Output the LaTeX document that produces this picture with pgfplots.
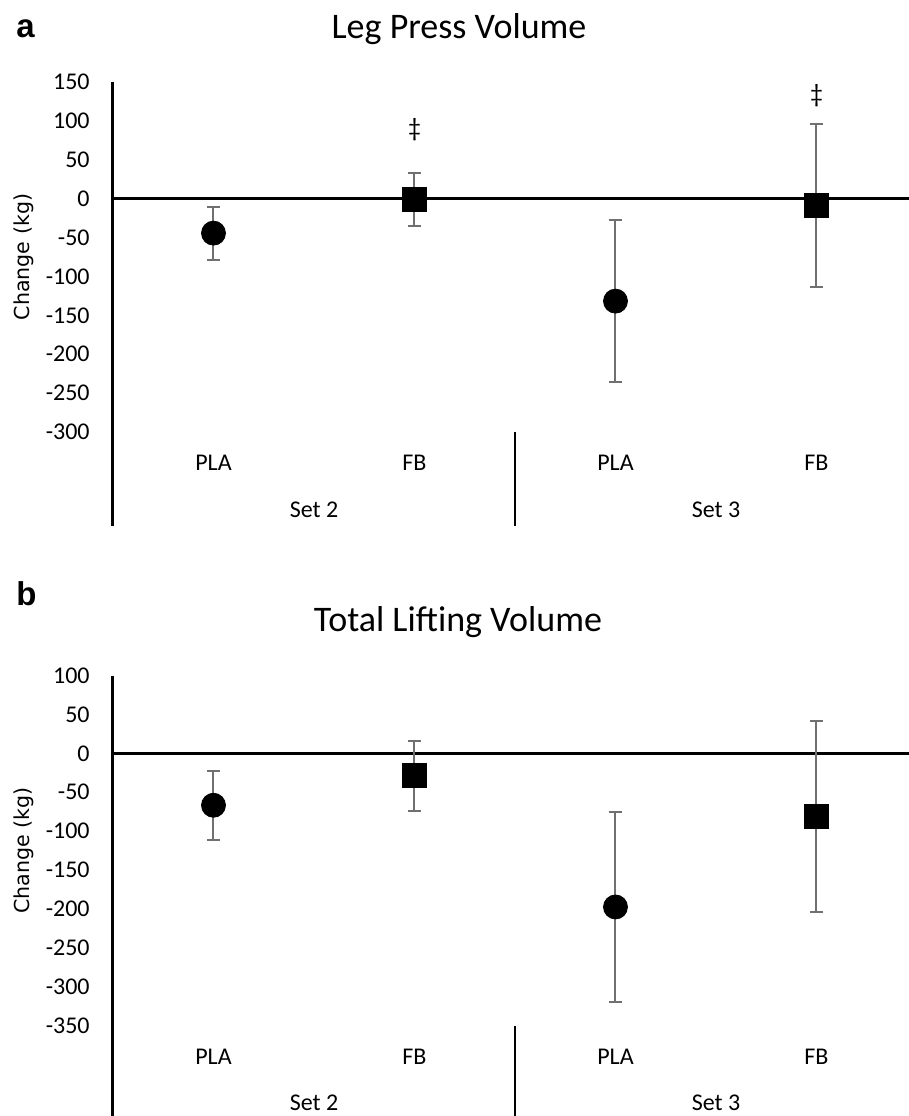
\documentclass[border=0pt]{standalone}
\usepackage{fontspec}
\setmainfont{Carlito}
\newfontfamily\dejavu{DejaVu Sans}
\newfontfamily\arialf{Liberation Sans}
\usepackage{pgfplots}
\pgfplotsset{compat=1.18}
\definecolor{ebar}{RGB}{112,112,112}
\pgfplotsset{
  panel/.style={
    width=402pt, height=175pt, scale only axis,
    xmin=0.5, xmax=4.5,
    axis line style={draw=none},
    major tick length=0pt,
    xtick={1,2,3,4}, xticklabels={PLA,FB,PLA,FB},
    ytick distance=50,
    clip=false,
    xticklabel style={anchor=base, yshift=-19.35pt, font=\fontsize{12}{14}\selectfont},
    yticklabel style={anchor=east, inner sep=0pt, xshift=-11.5pt, font=\fontsize{12}{14}\selectfont},
    /pgf/number format/assume math mode=true,
    ylabel={\dejavu\fontsize{10.3}{12}\selectfont Change (kg)},
    ylabel style={at={(axis description cs:-0.1107,0.5)}, anchor=center, rotate=0},
  },
  circ/.style={only marks, black, mark=*, mark size=6pt, mark options={fill=black, draw=black},
    error bars/.cd, y dir=both, y explicit,
    error bar style={ebar, line width=1pt},
    error mark options={rotate=90, ebar, mark size=3.3pt, line width=1pt}},
  sq/.style={only marks, black, mark=square*, mark size=6pt, mark options={fill=black, draw=black, rounded corners=2pt},
    error bars/.cd, y dir=both, y explicit,
    error bar style={ebar, line width=1pt},
    error mark options={rotate=90, ebar, mark size=3.3pt, line width=1pt}},
}
\begin{document}
\begin{tikzpicture}
\useasboundingbox (0,0) rectangle (454.5pt,-558pt);
% ---------- panel a ----------
\begin{axis}[panel, at={(56.5pt,-216pt)}, anchor=south west, ymin=-300, ymax=150]
\draw[line width=1.5pt] (axis cs:0.5,150) -- (axis cs:0.5,-420.5);
\draw[line width=1.5pt] (axis cs:0.5,0) -- (axis cs:4.5,0);
\draw[line width=1.2pt] (axis cs:2.5,-300) -- (axis cs:2.5,-420.5);
\addplot[circ] table[x=x, y=y, y error=e] {
x y e
1 -44.3 34
3 -131.7 104
};
\addplot[sq] table[x=x, y=y, y error=e] {
x y e
2 -1.3 34
4 -9 104.5
};
\node[font=\fontsize{13}{15}\selectfont] at (axis cs:2,89) {‡};
\node[font=\fontsize{13}{15}\selectfont] at (axis cs:4,132) {‡};
\node[anchor=base, yshift=-42.5pt, font=\fontsize{12}{14}\selectfont] at (axis cs:1.5,-300) {Set 2};
\node[anchor=base, yshift=-42.5pt, font=\fontsize{12}{14}\selectfont] at (axis cs:3.5,-300) {Set 3};
\end{axis}
% ---------- panel b ----------
\begin{axis}[panel, at={(56.5pt,-512.75pt)}, anchor=south west, ymin=-350, ymax=100]
\draw[line width=1.5pt] (axis cs:0.5,100) -- (axis cs:0.5,-470);
\draw[line width=1.5pt] (axis cs:0.5,0) -- (axis cs:4.5,0);
\draw[line width=1.2pt] (axis cs:2.5,-350) -- (axis cs:2.5,-470);
\addplot[circ] table[x=x, y=y, y error=e] {
x y e
1 -66.8 44.6
3 -197.6 121.7
};
\addplot[sq] table[x=x, y=y, y error=e] {
x y e
2 -29 44.6
4 -81.1 122.6
};
\node[anchor=base, yshift=-42.5pt, font=\fontsize{12}{14}\selectfont] at (axis cs:1.5,-350) {Set 2};
\node[anchor=base, yshift=-42.5pt, font=\fontsize{12}{14}\selectfont] at (axis cs:3.5,-350) {Set 3};
\end{axis}
% ---------- titles and panel letters ----------
\node[anchor=base, font=\fontsize{18}{22}\selectfont] at (229.5pt,-19pt) {Leg Press Volume};
\node[anchor=base, font=\fontsize{18}{22}\selectfont] at (229pt,-315.5pt) {Total Lifting Volume};
\node[anchor=base west, inner sep=0pt, font=\arialf\bfseries\fontsize{16.5}{20}\selectfont] at (8pt,-18.5pt) {a};
\node[anchor=base west, inner sep=0pt, font=\arialf\bfseries\fontsize{16.5}{20}\selectfont] at (8pt,-302.5pt) {b};
\end{tikzpicture}
\end{document}
